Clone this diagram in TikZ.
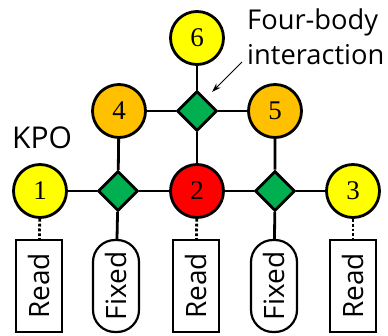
\documentclass[tikz,border=0pt]{standalone}
\usepackage{fontspec}
\setsansfont{Open Sans}
\newfontfamily\numfont{Liberation Serif}
\usepackage{xcolor}
\usetikzlibrary{shapes.geometric, arrows.meta, positioning}

\definecolor{kpoyellow}{HTML}{FFFF00}
\definecolor{kpoorange}{HTML}{FFC000}
\definecolor{kpored}{HTML}{FF0000}
\definecolor{couplegreen}{HTML}{00B050}

\tikzset{
  kpo/.style={circle, draw, line width=2.8pt, minimum size=53pt, inner sep=0pt,
    font=\numfont\fontsize{27}{29}\selectfont},
  coupler/.style={diamond, draw, line width=2.8pt, fill=couplegreen,
    minimum width=40pt, minimum height=40pt, inner sep=0pt},
  readbox/.style={draw, line width=2.2pt, rotate=90, minimum width=92pt,
    minimum height=46pt, inner sep=0pt, font=\sffamily\fontsize{28}{30}\selectfont},
  fixedbox/.style={readbox, rounded corners=22pt},
  link/.style={line width=2.8pt},
  probe/.style={line width=2.8pt, dotted}
}

\begin{document}
\begin{tikzpicture}[x=1pt, y=1pt]
        \useasboundingbox (0,0) rectangle (388,335);

        % KPO circles
        \node[kpo, fill=kpoyellow] (k1) at (40,144) {1};
        \node[kpo, fill=kpored] (k2) at (197,144) {2};
        \node[kpo, fill=kpoyellow] (k3) at (353,144) {3};
        \node[kpo, fill=kpoorange] (k4) at (119,224) {4};
        \node[kpo, fill=kpoorange] (k5) at (275,224) {5};
        \node[kpo, fill=kpoyellow] (k6) at (197,297) {6};

        % Four-body couplers
        \node[coupler] (c1) at (118,144) {};
        \node[coupler] (c2) at (275,144) {};
        \node[coupler] (c0) at (197,224) {};

        % Read and fixed boxes
        \node[readbox] (r1) at (39,49) {Read};
        \node[fixedbox] (f1) at (116,49) {Fixed};
        \node[readbox] (r2) at (196,49) {Read};
        \node[fixedbox] (f2) at (274,49) {Fixed};
        \node[readbox] (r3) at (353,49) {Read};

        % Couplings
        \draw[link] (k1) -- (c1) -- (k2) -- (c2) -- (k3);
        \draw[link] (k4) -- (c0) -- (k5);
        \draw[link] (k6) -- (c0) -- (k2);
        \draw[link] (k4) -- (c1) -- (f1);
        \draw[link] (k5) -- (c2) -- (f2);

        % Readout
        \draw[probe] (k1) -- (r1);
        \draw[probe] (k2) -- (r2);
        \draw[probe] (k3) -- (r3);

        % Labels
        \node[font=\sffamily\fontsize{30}{32}\selectfont, anchor=south west,
          inner sep=0pt] (kpolabel) at (12,186) {KPO};
        \node[font=\sffamily\fontsize{27.3}{35}\selectfont, anchor=north west,
          align=left, inner sep=0pt] (fourbody) at (247,326) {Four-body\\interaction};
        \coordinate (arrowstart) at (242,273);
        \coordinate (arrowtip) at ([shift={(4.5pt,8.5pt)}]c0.north east);
        \draw[-{Stealth[length=9pt,width=6pt]}, line width=0.9pt] (arrowstart) -- (arrowtip);
    \end{tikzpicture}
\end{document}
